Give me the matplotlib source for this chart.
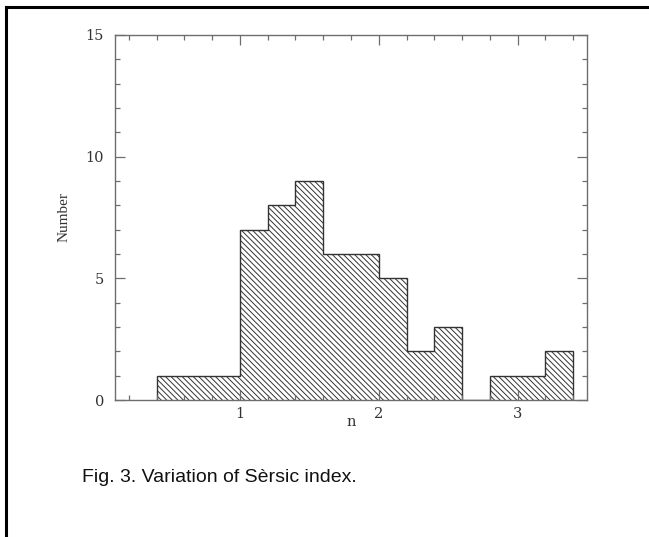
import matplotlib
matplotlib.use("Agg")
import matplotlib.pyplot as plt
from matplotlib.lines import Line2D
from matplotlib.ticker import MultipleLocator
import numpy as np

# histogram of Sersic index n, bin width 0.2
bin_edges = [0.4, 0.6, 0.8, 1.0, 1.2, 1.4, 1.6, 1.8, 2.0, 2.2, 2.4, 2.6, 2.8, 3.0, 3.2, 3.4]
counts = [1, 1, 1, 7, 8, 9, 6, 6, 5, 2, 3, 0, 1, 1, 2]
x_ticks = [1, 2, 3]
y_ticks = [0, 5, 10, 15]
caption = "Fig. 3. Variation of Sèrsic index."

AXIS = "#6e6e6e"
TEXT = "#333333"

plt.rcParams["hatch.color"] = "#2a2a2a"
plt.rcParams["hatch.linewidth"] = 0.7

fig = plt.figure(figsize=(6.49, 5.37), dpi=100)
ax = fig.add_axes([115 / 649, 1 - 400 / 537, 472 / 649, 365 / 537])

ax.stairs(counts, bin_edges, fill=True, baseline=0, facecolor="white",
          edgecolor="#333333", linewidth=1.0, hatch="\\\\\\\\\\\\")

ax.set_xlim(0.1, 3.5)
ax.set_ylim(0, 15)
ax.set_xticks(x_ticks)
ax.set_yticks(y_ticks)
ax.xaxis.set_minor_locator(MultipleLocator(0.2))
ax.yaxis.set_minor_locator(MultipleLocator(1))

for s in ax.spines.values():
    s.set_color(AXIS)
    s.set_linewidth(1.0)

ax.tick_params(which="both", direction="in", top=True, right=True,
               color=AXIS, width=0.9, labelcolor=TEXT)
ax.tick_params(which="major", length=7.2)
ax.tick_params(which="minor", length=3.6)
ax.tick_params(axis="y", which="major", pad=8)
ax.tick_params(axis="x", which="major", pad=5)

for lab in ax.get_xticklabels() + ax.get_yticklabels():
    lab.set_fontfamily("DejaVu Serif")
    lab.set_fontsize(10.5)

ax.set_xlabel("n", fontfamily="DejaVu Serif", fontsize=10.5, color=TEXT, labelpad=-4)
ax.set_ylabel("Number", fontfamily="Liberation Serif", fontsize=11, color=TEXT, labelpad=11)

fig.text(82 / 649, 1 - 477 / 537, caption, fontfamily="Liberation Sans",
         fontsize=14, color="#111111", ha="left", va="center")

# frame drawn on the top and left edges of the picture
fig.add_artist(Line2D([6 / 649, 1.0], [1 - 7 / 537, 1 - 7 / 537],
                      transform=fig.transFigure, color="black", linewidth=2.2))
fig.add_artist(Line2D([6 / 649, 6 / 649], [0.0, 1 - 7 / 537],
                      transform=fig.transFigure, color="black", linewidth=2.2))

fig.savefig("out.png", dpi=100)
